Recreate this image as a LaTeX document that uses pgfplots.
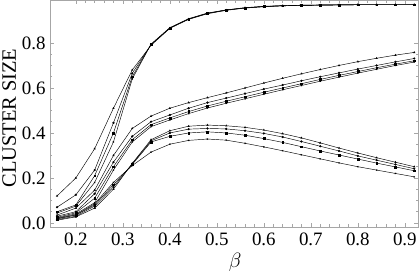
\documentclass[border=0pt]{standalone}
\usepackage{fontspec}
\setmainfont{Liberation Serif}
\usepackage{pgfplots}
\pgfplotsset{compat=1.18}
\begin{document}
\begin{tikzpicture}
\begin{axis}[
  scale only axis, width=368bp, height=227bp,
  xmin=0.145, xmax=0.928, ymin=-0.018, ymax=0.991,
  xtick={0.2,0.3,...,0.9}, ytick={0,0.2,0.4,0.6,0.8},
  xticklabels={0.2,0.3,0.4,0.5,0.6,0.7,0.8,0.9},
  yticklabels={0.0,0.2,0.4,0.6,0.8},
  minor x tick num=4, minor y tick num=3,
  tick align=inside, major tick length=4bp, minor tick length=2.5bp,
  axis line style={gray!70, line width=0.5pt},
  every tick/.style={gray!70, line width=0.5pt},
  tick label style={font=\fontsize{19}{20}\selectfont, black},
  /pgf/number format/assume math mode=true,
  xticklabel style={yshift=-2bp},
  yticklabel style={xshift=-1bp},
  xlabel={$\beta$}, xlabel style={font=\fontsize{20}{22}\selectfont, at={(axis description cs:0.503,-0.154)}, anchor=center},
  ylabel={CLUSTER SIZE}, ylabel style={font=\fontsize{20.5}{22}\selectfont, at={(axis description cs:-0.111,0.48)}, anchor=center, inner sep=0pt},
  every axis plot/.append style={black, line width=0.45pt, mark size=0.9pt},
]
\coordinate (SW) at (rel axis cs:0,0);
\coordinate (NE) at (rel axis cs:1,1);
% top family
\addplot[mark=triangle] coordinates {(0.16,0.12)(0.20,0.20)(0.24,0.33)(0.28,0.51)(0.32,0.68)(0.36,0.79)(0.40,0.865)(0.44,0.905)(0.48,0.93)(0.52,0.945)(0.56,0.955)(0.60,0.961)(0.64,0.965)(0.68,0.967)(0.72,0.968)(0.76,0.969)(0.80,0.970)(0.84,0.970)(0.88,0.970)(0.92,0.970)};
\addplot[mark=*] coordinates {(0.16,0.07)(0.20,0.125)(0.24,0.235)(0.28,0.445)(0.32,0.665)(0.36,0.792)(0.40,0.866)(0.44,0.906)(0.48,0.931)(0.52,0.946)(0.56,0.956)(0.60,0.962)(0.64,0.965)(0.68,0.967)(0.72,0.968)(0.76,0.969)(0.80,0.970)(0.84,0.970)(0.88,0.970)(0.92,0.970)};
\addplot[mark=square*] coordinates {(0.16,0.05)(0.20,0.08)(0.24,0.21)(0.28,0.40)(0.32,0.65)(0.36,0.794)(0.40,0.867)(0.44,0.907)(0.48,0.932)(0.52,0.947)(0.56,0.956)(0.60,0.962)(0.64,0.966)(0.68,0.968)(0.72,0.969)(0.76,0.969)(0.80,0.970)(0.84,0.970)(0.88,0.970)(0.92,0.970)};
\addplot[mark=x] coordinates {(0.16,0.044)(0.20,0.075)(0.24,0.18)(0.28,0.36)(0.32,0.64)(0.36,0.795)(0.40,0.868)(0.44,0.908)(0.48,0.933)(0.52,0.947)(0.56,0.957)(0.60,0.963)(0.64,0.966)(0.68,0.968)(0.72,0.969)(0.76,0.970)(0.80,0.970)(0.84,0.970)(0.88,0.970)(0.92,0.970)};
% middle family
\addplot[mark=triangle] coordinates {(0.16,0.035)(0.20,0.066)(0.24,0.146)(0.28,0.30)(0.32,0.42)(0.36,0.475)(0.40,0.51)(0.44,0.535)(0.48,0.557)(0.52,0.578)(0.56,0.600)(0.60,0.622)(0.64,0.643)(0.68,0.663)(0.72,0.682)(0.76,0.700)(0.80,0.717)(0.84,0.732)(0.88,0.746)(0.92,0.758)};
\addplot[mark=*] coordinates {(0.16,0.03)(0.20,0.05)(0.24,0.13)(0.28,0.27)(0.32,0.385)(0.36,0.45)(0.40,0.48)(0.44,0.51)(0.48,0.535)(0.52,0.555)(0.56,0.575)(0.60,0.595)(0.64,0.613)(0.68,0.632)(0.72,0.650)(0.76,0.667)(0.80,0.684)(0.84,0.700)(0.88,0.716)(0.92,0.731)};
\addplot[mark=square*] coordinates {(0.16,0.025)(0.20,0.045)(0.24,0.11)(0.28,0.25)(0.32,0.37)(0.36,0.437)(0.40,0.467)(0.44,0.495)(0.48,0.52)(0.52,0.541)(0.56,0.561)(0.60,0.581)(0.64,0.600)(0.68,0.619)(0.72,0.638)(0.76,0.656)(0.80,0.673)(0.84,0.690)(0.88,0.706)(0.92,0.721)};
\addplot[mark=x] coordinates {(0.16,0.022)(0.20,0.04)(0.24,0.09)(0.28,0.235)(0.32,0.36)(0.36,0.428)(0.40,0.458)(0.44,0.486)(0.48,0.511)(0.52,0.532)(0.56,0.552)(0.60,0.572)(0.64,0.592)(0.68,0.611)(0.72,0.630)(0.76,0.648)(0.80,0.666)(0.84,0.683)(0.88,0.700)(0.92,0.715)};
% bottom family
\addplot[mark=triangle] coordinates {(0.16,0.012)(0.20,0.027)(0.24,0.066)(0.28,0.15)(0.32,0.265)(0.36,0.37)(0.40,0.41)(0.44,0.43)(0.48,0.435)(0.52,0.432)(0.56,0.425)(0.60,0.413)(0.64,0.397)(0.68,0.378)(0.72,0.356)(0.76,0.333)(0.80,0.311)(0.84,0.290)(0.88,0.270)(0.92,0.250)};
\addplot[mark=*] coordinates {(0.16,0.015)(0.20,0.03)(0.24,0.075)(0.28,0.16)(0.32,0.262)(0.36,0.365)(0.40,0.40)(0.44,0.417)(0.48,0.42)(0.52,0.418)(0.56,0.41)(0.60,0.398)(0.64,0.382)(0.68,0.362)(0.72,0.341)(0.76,0.320)(0.80,0.298)(0.84,0.279)(0.88,0.260)(0.92,0.241)};
\addplot[mark=square*] coordinates {(0.16,0.018)(0.20,0.035)(0.24,0.08)(0.28,0.17)(0.32,0.26)(0.36,0.36)(0.40,0.385)(0.44,0.40)(0.48,0.405)(0.52,0.40)(0.56,0.39)(0.60,0.375)(0.64,0.358)(0.68,0.339)(0.72,0.320)(0.76,0.302)(0.80,0.284)(0.84,0.266)(0.88,0.249)(0.92,0.232)};
\addplot[mark=x] coordinates {(0.16,0.02)(0.20,0.036)(0.24,0.085)(0.28,0.18)(0.32,0.255)(0.36,0.315)(0.40,0.35)(0.44,0.367)(0.48,0.373)(0.52,0.368)(0.56,0.354)(0.60,0.338)(0.64,0.321)(0.68,0.303)(0.72,0.285)(0.76,0.267)(0.80,0.250)(0.84,0.235)(0.88,0.220)(0.92,0.205)};
\end{axis}
\pgfresetboundingbox
\useasboundingbox ([xshift=-50bp,yshift=-47bp]SW) rectangle ([xshift=2bp]NE);
\end{tikzpicture}
\end{document}
